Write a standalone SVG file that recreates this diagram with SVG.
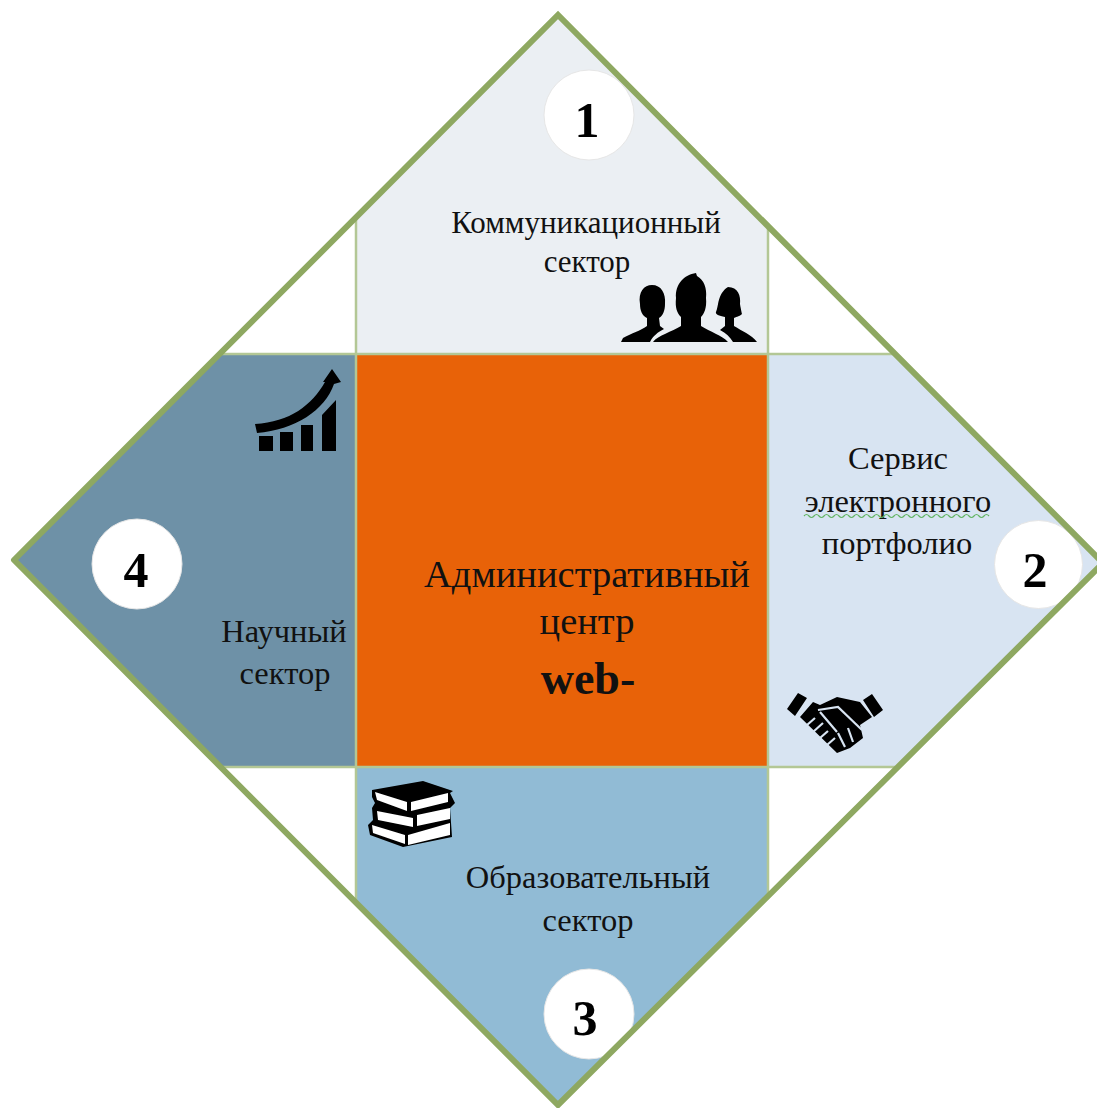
<svg xmlns="http://www.w3.org/2000/svg" width="1097" height="1108" viewBox="0 0 1097 1108">
<defs>
<style>
.t{font-family:"Liberation Serif","Times New Roman",serif;font-size:32.5px;fill:#111;text-anchor:middle}
.s{font-size:31px}
.c{font-size:38.5px}
.w{font-size:46px;font-weight:bold}
.n{font-family:"Liberation Serif","Times New Roman",serif;font-size:50px;font-weight:bold;fill:#000;text-anchor:middle}
.disc{fill:#fff;stroke:#e6e6e6;stroke-width:1}
.edge{fill:none;stroke:#8ea861;stroke-width:6;stroke-linecap:round}
.thin{fill:none;stroke:#b3c795;stroke-width:2.5}
.icon{filter:url(#soft)}
</style>
<filter id="soft" x="-5%" y="-5%" width="110%" height="110%"><feGaussianBlur stdDeviation="0.6"/></filter>
</defs>
<rect width="1097" height="1108" fill="#fff"/>
<g id="sector-1">
<polygon points="356,218 558,15 768,227 768,355 356,355" fill="#ebeff3"/>
<circle class="disc" cx="589" cy="115" r="45"/>
<text class="n" x="587" y="137">1</text>
<text class="t s" x="586" y="233">Коммуникационный</text>
<text class="t s" x="587" y="272">сектор</text>
<g id="icon-people" class="icon" fill="#000">
<path d="M621,342 L623,338 C632,333 640,331 647,326 L647,318 C642,316 640,310 640,304 C638,292 644,285 652,285 C661,285 666,293 665,304 C665,310 663,316 659,318 L660,326 L664,329 C658,332 653,336 650,342 Z"/>
<path d="M653,342 C658,335 672,332 681,326 L681,317 C677,313 675,308 676,298 C675,284 684,275 696,273 L697,276 C704,280 707,288 706,298 C707,308 704,314 701,317 L701,326 C710,332 722,335 728,342 Z"/>
<path d="M733,342 C730,337 726,333 720,330 L725,326 L725,317 C719,316 715,314 716,312 C719,306 717,294 728,287 C738,287 741,296 740,304 C741,310 742,314 742,314 C739,317 735,317 734,318 L734,326 C742,331 752,335 757,342 Z"/>
</g>
</g>
<g id="sector-2">
<polygon points="768,353 895,353 1103,563 898,767 768,767" fill="#d8e4f2"/>
<circle class="disc" cx="1038.500" cy="564.500" r="44"/>
<text class="n" x="1035" y="587">2</text>
<text class="t" x="898" y="469">Сервис</text>
<text class="t" x="898" y="512">электронного</text>
<path d="M804,516 q2.500,-3 5,0 t5,0 t5,0 t5,0 t5,0 t5,0 t5,0 t5,0 t5,0 t5,0 t5,0 t5,0 t5,0 t5,0 t5,0 t5,0 t5,0 t5,0 t5,0 t5,0 t5,0 t5,0 t5,0 t5,0 t5,0 t5,0 t5,0 t5,0 t5,0 t5,0 t5,0 t5,0 t5,0 t5,0 t5,0 t5,0 t5,0" fill="none" stroke="#63b563" stroke-width="1.2"/>
<text class="t" x="897" y="554">портфолио</text>
<g id="icon-handshake" class="icon">
<path d="M787,709 L798,693 L807,698 L795,716 Z M863,700 L872,694 L883,710 L874,717 Z" fill="#000"/>
<path d="M800,717 L813,702 L820,705 L837,697 L860,702 L872,717 L860,725 L863,738 L850,748 L837,753 Z" fill="#000"/>
<path d="M807,725 L815,718 M813,732 L823,723 M820,738 L828,731 M827,745 L835,738 M818,710 L838,707 L862,730 M820,712 L837,732 M838,733 L845,747 M848,728 L853,742" fill="none" stroke="#d8e4f2" stroke-width="2.2"/>
</g>
</g>
<g id="sector-3">
<polygon points="356,767 768,767 768,897 558,1105 356,903" fill="#91bbd5"/>
<circle class="disc" cx="589" cy="1014" r="45"/>
<text class="n" x="585" y="1035">3</text>
<text class="t" x="588" y="888">Образовательный</text>
<text class="t" x="588" y="931">сектор</text>
<g id="icon-books" class="icon">
<path d="M372,790 L423,781 L453,791 L450,793 L455,803 L450,808 L452,837 L403,847 L370,835 L368,825 L373,820 L372,808 L375,803 L372,797 Z" fill="#000"/>
<path d="M375,792 L407,802 L407,811 L377,800 Z M411,802 L448,793 L448,802 L411,811 Z M377,811 L413,818 L413,827 L378,820 Z M417,815 L450,808 L450,819 L417,826 Z M372,825 L405,835 L405,844 L373,833 Z M408,835 L450,823 L450,835 L408,845 Z" fill="#fff"/>
</g>
</g>
<g id="sector-4">
<polygon points="220,353 356,353 356,767 222,767 14,560" fill="#6e91a7"/>
<circle class="disc" cx="137" cy="564" r="45"/>
<text class="n" x="136" y="587">4</text>
<text class="t" x="284" y="642">Научный</text>
<text class="t" x="285" y="684">сектор</text>
<g id="icon-growth" class="icon" fill="#000">
<path d="M255,424 C290,422 312,405 325,382 L323,382 L332,369 L341,382 L334,384 C325,410 295,430 257,433 Z"/>
<path d="M259,436 H273 V451 H259 Z M280,432 H293 V451 H280 Z M301,425 H313 V451 H301 Z M322,415 L336,400 V451 H322 Z"/>
</g>
</g>
<g id="center">
<rect x="356" y="355" width="412" height="412" fill="#e86208"/>
<text class="t c" x="587" y="587">Административный</text>
<text class="t c" x="587" y="634">центр</text>
<text class="t w" x="588" y="694">web-</text>
</g>
<g id="connectors">
<path class="thin" d="M356,218V903M768,227V897M220,354H895M222,767H895"/>
<path class="edge" d="M14,560L558,15L1103,563M14,560L558,1105L1103,563"/>
</g>
</svg>
